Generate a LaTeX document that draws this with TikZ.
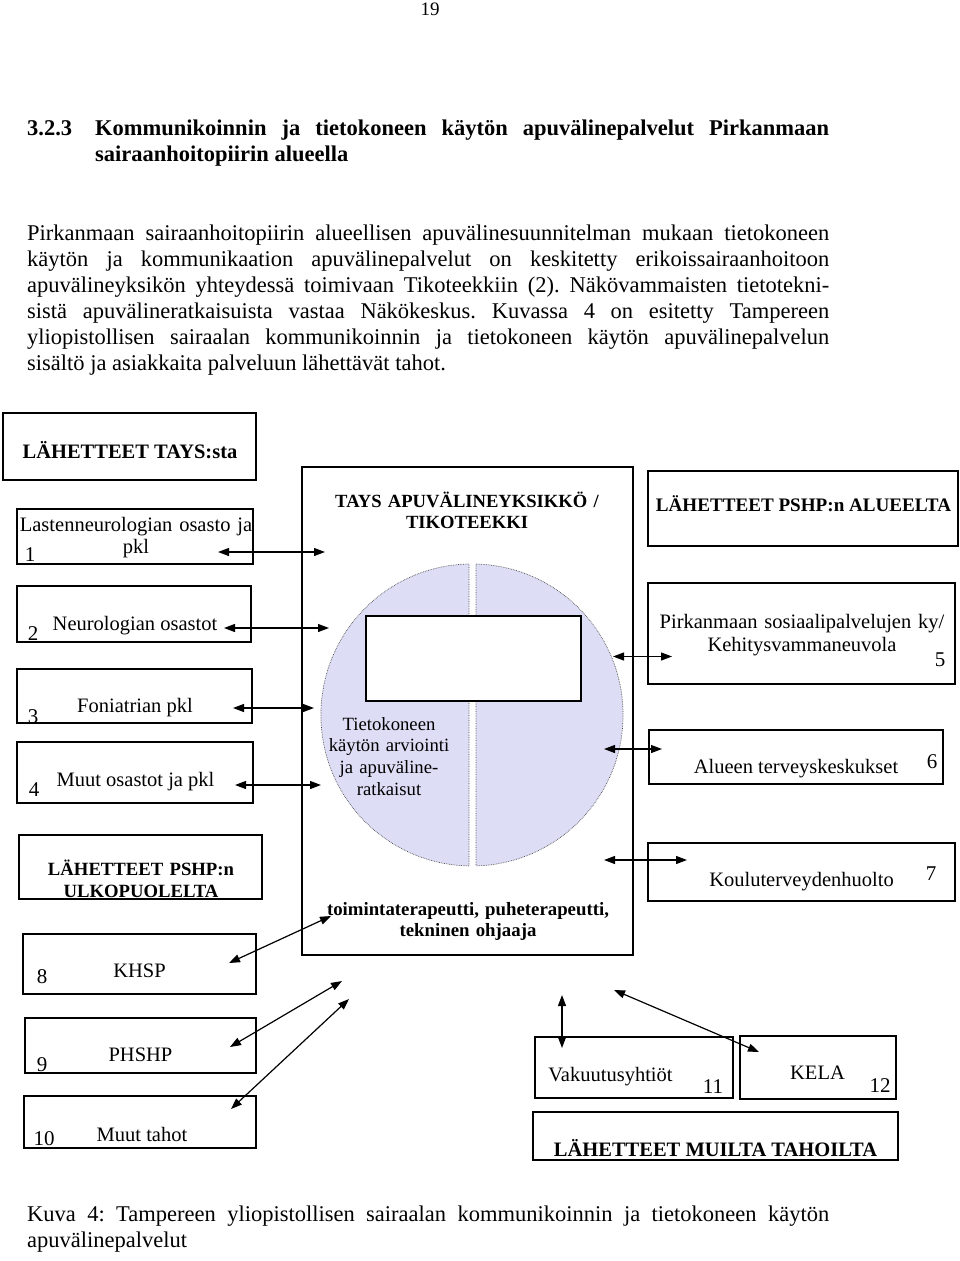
\documentclass[tikz,border=0pt]{standalone}
\usepackage{fontspec}
\setmainfont{Liberation Serif}
\usetikzlibrary{arrows.meta}
\definecolor{circfill}{RGB}{221,221,245}
\frenchspacing
\begin{document}
\begin{tikzpicture}[x=1pt,y=-1pt,
    box/.style={draw,line width=1.2pt,inner sep=0pt},
    txt/.style={inner sep=0pt,anchor=base,font=\fontsize{20.5}{22}\selectfont},
    hdr/.style={inner sep=0pt,anchor=base,font=\bfseries\fontsize{20.5}{22}\selectfont},
    num/.style={inner sep=0pt,anchor=base,font=\fontsize{21}{22}\selectfont},
    body/.style={inner sep=0pt,anchor=base west,text width=802pt,align=justify,font=\fontsize{22.5}{26}\selectfont},
    link/.style={line width=1.2pt,{Triangle[length=11pt,width=8pt]}-{Triangle[length=11pt,width=8pt]}},
    half/.style={fill=circfill,draw=black!70,line width=0.7pt,dash pattern=on 0.7pt off 1pt}]
                            \useasboundingbox (0,0) rectangle (960,1261);
                            \node[inner sep=0pt,anchor=base,font=\fontsize{19}{22}\selectfont] (pagenum) at (430,15) {19};
                            \node[inner sep=0pt,anchor=base west,font=\bfseries\fontsize{22.5}{26.5}\selectfont] (secnum) at (27,135) {3.2.3};
                            \node[inner sep=0pt,anchor=base west,text width=734pt,align=justify,font=\bfseries\fontsize{22.5}{26.5}\selectfont] (sectitle) at (95,135) {\tolerance=10000 Kommunikoinnin ja tietokoneen käytön apuvälinepalvelut Pirkanmaan\linebreak sairaanhoitopiirin alueella};
                            \node[body] (intro) at (27,240) {\tolerance=10000 Pirkanmaan sairaanhoitopiirin alueellisen apuvälinesuunnitelman mukaan tietokoneen\linebreak käytön ja kommunikaation apuvälinepalvelut on keskitetty erikoissairaanhoitoon\linebreak apuvälineyksikön yhteydessä toimivaan Tikoteekkiin (2). Näkövammaisten tietotekni-\linebreak sistä apuvälineratkaisuista vastaa Näkökeskus. Kuvassa 4 on esitetty Tampereen\linebreak yliopistollisen sairaalan kommunikoinnin ja tietokoneen käytön apuvälinepalvelun\linebreak sisältö ja asiakkaita palveluun lähettävät tahot.};
                            \node[box,minimum width=331,minimum height=488] (tays) at (467.5,711) {};
                            \draw[half] (469,564) arc[start angle=268.9,end angle=91.1,radius=151] -- cycle;
                            \draw[half] (476,564) arc[start angle=-88.5,end angle=88.5,radius=151] -- cycle;
                            \node[box,fill=white,minimum width=215,minimum height=85] (blank) at (473.5,658.5) {};
                            \node[hdr,text width=300pt,align=center,font=\bfseries\fontsize{18.6}{21}\selectfont] (taystitle) at (467,507.3) {TAYS APUVÄLINEYKSIKKÖ /\\TIKOTEEKKI};
                            \node[txt,text width=140pt,align=center,font=\fontsize{18.7}{21.7}\selectfont] (arvio) at (389,730) {Tietokoneen\\käytön arviointi\\ja apuväline-\\ratkaisut};
                            \node[hdr,text width=320pt,align=center,font=\bfseries\fontsize{18.8}{21}\selectfont] (staff) at (468,915) {toimintaterapeutti, puheterapeutti,\\tekninen ohjaaja};
                            \node[box,minimum width=253,minimum height=67] (fromtays) at (129.5,446.5) {};
                            \node[hdr] (fromtaystxt) at (130,458) {LÄHETTEET TAYS:sta};
                            \node[box,minimum width=236,minimum height=55] (lasten) at (135,536.5) {};
                            \node[txt,text width=236pt,align=center] (lastentxt) at (136,531) {Lastenneurologian osasto ja\\pkl};
                            \node[num] (n1) at (30,561.7) {1};
                            \node[box,minimum width=234,minimum height=56] (neuro) at (134,614) {};
                            \node[txt] (neurotxt) at (135,630) {Neurologian osastot};
                            \node[num] (n2) at (33,640) {2};
                            \node[box,minimum width=235,minimum height=54] (fonia) at (134.5,696) {};
                            \node[txt] (foniatxt) at (135,712) {Foniatrian pkl};
                            \node[num] (n3) at (33,723) {3};
                            \node[box,minimum width=236,minimum height=61] (muut) at (135,772.5) {};
                            \node[txt] (muuttxt) at (135.5,786) {Muut osastot ja pkl};
                            \node[num] (n4) at (34,796) {4};
                            \node[box,minimum width=243,minimum height=64] (ulko) at (140.5,867) {};
                            \node[hdr,text width=243pt,align=center,font=\bfseries\fontsize{18.7}{22}\selectfont] (ulkotxt) at (141,875) {LÄHETTEET PSHP:n\\ULKOPUOLELTA};
                            \node[box,minimum width=233,minimum height=60] (khsp) at (139.5,964) {};
                            \node[txt] (khsptxt) at (139.5,977.7) {KHSP};
                            \node[num] (n8) at (42,983) {8};
                            \node[box,minimum width=231,minimum height=55] (phshp) at (140.5,1045.5) {};
                            \node[txt] (phshptxt) at (140.5,1061.7) {PHSHP};
                            \node[num] (n9) at (42,1071) {9};
                            \node[box,minimum width=232,minimum height=52] (muuttahot) at (140,1122) {};
                            \node[txt] (muuttahottxt) at (142,1141.7) {Muut tahot};
                            \node[num] (n10) at (44,1145) {10};
                            \node[box,minimum width=310,minimum height=75] (alue) at (803,508.5) {};
                            \node[hdr,font=\bfseries\fontsize{19.1}{22}\selectfont] (aluetxt) at (803.5,511) {LÄHETTEET PSHP:n ALUEELTA};
                            \node[box,minimum width=307,minimum height=101] (sosiaali) at (801.5,633.5) {};
                            \node[txt,text width=307pt,align=center,font=\fontsize{20.5}{22.7}\selectfont] (sosiaalitxt) at (802,628.3) {Pirkanmaan sosiaalipalvelujen ky/\\Kehitysvammaneuvola};
                            \node[num] (n5) at (940,666) {5};
                            \node[box,minimum width=294,minimum height=54] (terveys) at (796,757) {};
                            \node[txt] (terveystxt) at (796,773.3) {Alueen terveyskeskukset};
                            \node[num] (n6) at (932,768.3) {6};
                            \node[box,minimum width=307,minimum height=58] (koulu) at (801.5,872) {};
                            \node[txt] (koulutxt) at (801.5,886.7) {Kouluterveydenhuolto};
                            \node[num] (n7) at (931,880) {7};
                            \node[box,minimum width=198,minimum height=61] (vakuutus) at (634,1067.5) {};
                            \node[txt] (vakuutustxt) at (610.5,1081.7) {Vakuutusyhtiöt};
                            \node[num] (n11) at (713,1093) {11};
                            \node[box,minimum width=156,minimum height=63] (kela) at (818,1067.5) {};
                            \node[txt] (kelatxt) at (817.5,1079.3) {KELA};
                            \node[num] (n12) at (880,1092.7) {12};
                            \node[box,minimum width=365,minimum height=48] (muilta) at (715.5,1136) {};
                            \node[hdr] (muiltatxt) at (715.5,1156) {LÄHETTEET MUILTA TAHOILTA};
                            \coordinate (l1a) at (218,552); \coordinate (l1b) at (325,552);
                            \coordinate (l2a) at (224,628); \coordinate (l2b) at (329,628);
                            \coordinate (l3a) at (233,708); \coordinate (l3b) at (314,708);
                            \coordinate (l4a) at (235,785); \coordinate (l4b) at (321,785);
                            \coordinate (l5a) at (613,656.5); \coordinate (l5b) at (672,656.5);
                            \coordinate (l6a) at (604,749); \coordinate (l6b) at (662,749);
                            \coordinate (l7a) at (604,860); \coordinate (l7b) at (687,860);
                            \coordinate (l8a) at (229,963); \coordinate (l8b) at (331,916);
                            \coordinate (l9a) at (230,1047); \coordinate (l9b) at (342,981);
                            \coordinate (l10a) at (231,1109); \coordinate (l10b) at (349,999);
                            \coordinate (l11a) at (562,995); \coordinate (l11b) at (562,1048);
                            \coordinate (l12a) at (614,990); \coordinate (l12b) at (759,1052);
                            \draw[link] (l1a) -- (l1b);
                            \draw[link] (l2a) -- (l2b);
                            \draw[link] (l3a) -- (l3b);
                            \draw[link] (l4a) -- (l4b);
                            \draw[link] (l5a) -- (l5b);
                            \draw[link] (l6a) -- (l6b);
                            \draw[link] (l7a) -- (l7b);
                            \draw[link] (l8a) -- (l8b);
                            \draw[link] (l9a) -- (l9b);
                            \draw[link] (l10a) -- (l10b);
                            \draw[link] (l11a) -- (l11b);
                            \draw[link] (l12a) -- (l12b);
                            \node[body] (caption) at (27,1221) {\tolerance=10000 Kuva 4: Tampereen yliopistollisen sairaalan kommunikoinnin ja tietokoneen käytön\linebreak apuvälinepalvelut};
                            \end{tikzpicture}
\end{document}
